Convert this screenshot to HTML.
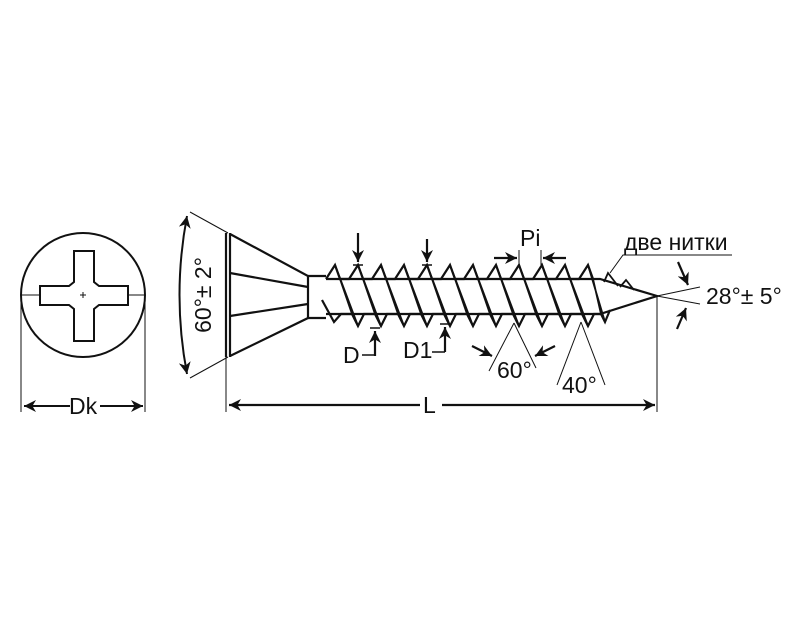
<!DOCTYPE html>
<html><head><meta charset="utf-8"><style>
html,body{margin:0;padding:0;background:#fff}
svg{display:block}
text{font-family:"Liberation Sans",sans-serif;fill:#111}
</style></head><body>
<svg width="800" height="622" viewBox="0 0 800 622" xmlns="http://www.w3.org/2000/svg">
<defs>
<marker id="a" viewBox="0 0 10 10" refX="10" refY="5" markerWidth="12" markerHeight="12" orient="auto-start-reverse" markerUnits="userSpaceOnUse"><path d="M0,0 L10,5 L0,10 L3,5 z" fill="#111"/></marker>
</defs>
<g stroke="#111" fill="none" stroke-width="2">
<circle cx="83" cy="295" r="62"/>
<path d="M74,251 H94 V282 L99,286 H128 V305 H99 L94,309 V341 H74 V309 L69,305 H40 V286 H69 L74,282 Z"/>
<path d="M21,295 H40 M128,295 H145" stroke-width="1"/>
<path d="M80,295 H86 M83,292 V298" stroke-width="1"/>
<path d="M21,300 V412 M145,300 V412" stroke-width="1"/>
<path d="M24,406 H70 M100,406 H143" stroke-width="2" marker-start="url(#a)" marker-end="url(#a)"/>
</g>
<text x="69" y="414" font-size="23">Dk</text>

<g stroke="#111" fill="none" stroke-width="2.2">
<path d="M226,233 V357 M230,233 V357"/>
<path d="M230,234 L308,276 V318 L230,356"/>
<path d="M230,273 L308,287 M230,316 L308,304"/>
<path d="M308,276 H326 M308,318 H326"/>
<path d="M326,279 H600 L657,296 L600,314 H326"/>
<g stroke-linejoin="miter">
<path d="M326,279 L335,265 L340,279 L349,279 L358,265 L363,279 L372,279 L381,265 L386,279 L395,279 L404,265 L409,279 L418,279 L427,265 L432,279 L441,279 L450,265 L455,279 L464,279 L473,265 L478,279 L487,279 L496,265 L501,279 L510,279 L519,265 L524,279 L533,279 L542,265 L547,279 L556,279 L565,265 L570,279 L579,279 L588,265 L593,279"/>
<path d="M322,300 L334,322 L341,314 L352,314 L358,326 L364,314 L375,314 L381,326 L387,314 L398,314 L404,326 L410,314 L421,314 L427,326 L433,314 L444,314 L450,326 L456,314 L467,314 L473,326 L479,314 L490,314 L496,326 L502,314 L513,314 L519,326 L525,314 L536,314 L542,326 L548,314 L559,314 L565,326 L571,314 L582,314 L588,326 L594,314 L601,314 L605,322 L610,310"/>
<path d="M335,265 L358,326 M340,279 L352,314 M358,265 L381,326 M363,279 L375,314 M381,265 L404,326 M386,279 L398,314 M404,265 L427,326 M409,279 L421,314 M427,265 L450,326 M432,279 L444,314 M450,265 L473,326 M455,279 L467,314 M473,265 L496,326 M478,279 L490,314 M496,265 L519,326 M501,279 L513,314 M519,265 L542,326 M524,279 L536,314 M542,265 L565,326 M547,279 L559,314 M565,265 L588,326 M570,279 L582,314 M588,265 L605,322 M593,279 L601,314" stroke-width="1.8"/>
<path d="M604,282 L608,273 L618,286 M620,287 L626,280 L634,290" stroke-width="1.8"/>
</g>
<path d="M190,212 L228,233 M228,357 L190,378" stroke-width="1"/>
<path d="M187,216 Q172,295 187,374" stroke-width="2" marker-start="url(#a)" marker-end="url(#a)"/>
<path d="M226,357 V412 M657,296 V412" stroke-width="1"/>
<path d="M229,405 H420 M442,405 H655" marker-start="url(#a)" marker-end="url(#a)"/>
<path d="M358,233 V262" marker-end="url(#a)"/>
<path d="M353,265 H363 M370,328 H380 M422,265 H432 M440,324 H450" stroke-width="1.4"/>
<path d="M375,356 V331" marker-end="url(#a)"/>
<path d="M362,355 H375" stroke-width="1.5"/>
<path d="M427,239 V262" marker-end="url(#a)"/>
<path d="M445,352 V327" marker-end="url(#a)"/>
<path d="M432,352 H445" stroke-width="1.5"/>
<path d="M519,250 V265 M541,250 V265" stroke-width="1"/>
<path d="M494,258 H517" marker-end="url(#a)"/>
<path d="M566,258 H543" marker-end="url(#a)"/>
<path d="M514,323 L489,371 M514,323 L536,368" stroke-width="1"/>
<path d="M472,346 L492,356" marker-end="url(#a)"/>
<path d="M555,346 L535,356" marker-end="url(#a)"/>
<path d="M581,322 L557,385 M581,322 L605,385" stroke-width="1"/>
<path d="M657,296 L700,287 M657,296 L700,304" stroke-width="1"/>
<path d="M678,262 L688,285" marker-end="url(#a)"/>
<path d="M677,329 L686,308" marker-end="url(#a)"/>
<path d="M610,273 L623,255 H732" stroke-width="1"/>
</g>
<text transform="translate(211,295) rotate(-90)" font-size="23" text-anchor="middle">60°± 2°</text>
<text x="423" y="413" font-size="23">L</text>
<text x="343" y="363" font-size="23">D</text>
<text x="403" y="358" font-size="23">D1</text>
<text x="520" y="246" font-size="23">Pi</text>
<text x="497" y="378" font-size="23">60°</text>
<text x="562" y="393" font-size="23">40°</text>
<text x="706" y="304" font-size="23">28°± 5°</text>
<text x="624" y="250" font-size="23">две нитки</text>
</svg>
</body></html>
